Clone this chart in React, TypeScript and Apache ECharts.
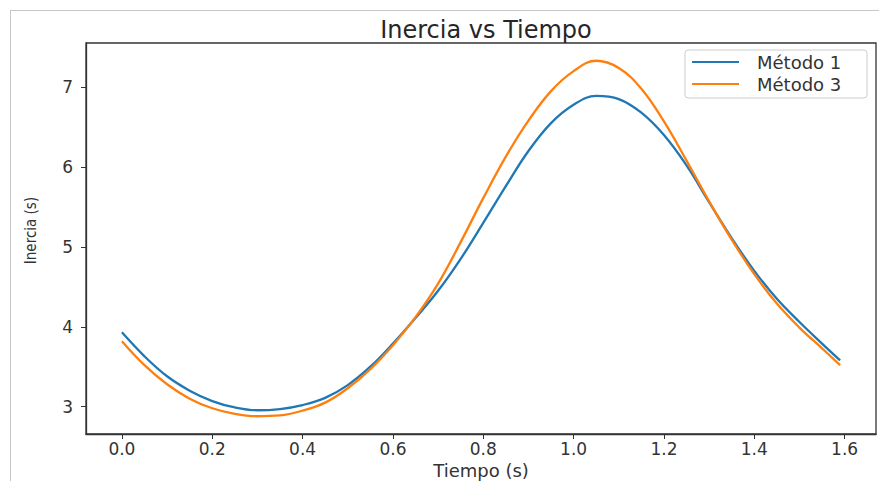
import React, { useEffect, useRef } from "react";
import * as echarts from "echarts";

const tiempo = [0, 0.05, 0.1, 0.15, 0.2, 0.25, 0.3, 0.35, 0.4, 0.45, 0.5, 0.55, 0.6, 0.65, 0.7, 0.75, 0.8, 0.85, 0.9, 0.95, 1.0, 1.05, 1.1, 1.15, 1.2, 1.25, 1.3, 1.35, 1.4, 1.45, 1.5, 1.55, 1.59];
const metodo1 = [3.93, 3.63, 3.38, 3.2, 3.07, 2.99, 2.955, 2.97, 3.02, 3.11, 3.27, 3.5, 3.79, 4.11, 4.45, 4.85, 5.3, 5.76, 6.2, 6.55, 6.78, 6.89, 6.85, 6.68, 6.4, 6.02, 5.56, 5.11, 4.7, 4.35, 4.06, 3.79, 3.58];
const metodo3 = [3.82, 3.52, 3.28, 3.1, 2.98, 2.91, 2.88, 2.89, 2.95, 3.05, 3.23, 3.47, 3.77, 4.12, 4.54, 5.06, 5.61, 6.13, 6.58, 6.95, 7.2, 7.33, 7.24, 6.98, 6.57, 6.08, 5.57, 5.09, 4.66, 4.29, 3.99, 3.73, 3.52];
const xTicks = [0, 0.2, 0.4, 0.6, 0.8, 1.0, 1.2, 1.4, 1.6];
const yTicks = [3, 4, 5, 6, 7];
const seriesNames = ["Método 1", "Método 3"];

export default function App() {
  const ref = useRef<HTMLDivElement>(null);
  useEffect(() => {
    if (!ref.current) return;
    const chart = echarts.init(ref.current, undefined, { renderer: "svg" });
    const font = "DejaVu Sans";
    chart.setOption({
      animation: false,
      backgroundColor: "#ffffff",
      title: {
        text: "Inercia vs Tiempo",
        left: 481,
        textAlign: "center",
        top: 13,
        textStyle: { fontFamily: font, fontSize: 24, fontWeight: "normal", color: "#262626" },
      },
      graphic: [
        { type: "line", shape: { x1: 10, y1: 10.5, x2: 879, y2: 10.5 }, style: { stroke: "#c8c8c8", lineWidth: 1 } },
        { type: "line", shape: { x1: 10.5, y1: 10, x2: 10.5, y2: 481 }, style: { stroke: "#c8c8c8", lineWidth: 1 } },
      ],
      legend: {
        orient: "vertical",
        right: 12,
        top: 50,
        padding: [3, 10, 5, 7],
        itemGap: 4,
        itemWidth: 47,
        itemHeight: 2,
        icon: "rect",
        borderColor: "#cccccc",
        borderWidth: 1,
        borderRadius: 3,
        backgroundColor: "#ffffff",
        textStyle: { fontFamily: font, fontSize: 18, lineHeight: 18, color: "#333333", padding: [0, 0, 0, 13], width: 100 },
        data: seriesNames,
      },
      grid: {
        left: 86,
        right: 3,
        top: 43,
        bottom: 47,
        show: true,
        outerBoundsMode: "none",
        containLabel: false,
        borderColor: "#333333",
        borderWidth: 1.3,
        backgroundColor: "transparent",
      },
      xAxis: {
        type: "value",
        min: -0.0795,
        max: 1.6695,
        name: "Tiempo (s)",
        nameLocation: "middle",
        nameGap: 20,
        nameTextStyle: { fontFamily: font, fontSize: 18, color: "#333333", verticalAlign: "top", lineHeight: 18 },
        axisLine: { show: true, onZero: false, lineStyle: { color: "#333333", width: 1.3 } },
        axisTick: { show: true, length: 5, lineStyle: { color: "#333333" }, customValues: xTicks },
        axisLabel: {
          customValues: xTicks,
          fontFamily: font,
          fontSize: 17,
          color: "#333333",
          margin: 6,
          formatter: (v: number) => v.toFixed(1),
        },
        splitLine: { show: false },
      },
      yAxis: {
        type: "value",
        min: 2.6575,
        max: 7.5525,
        name: "Inercia (s)",
        nameLocation: "middle",
        nameGap: 48,
        nameTextStyle: {
          fontFamily: "Liberation Sans Narrow, DejaVu Sans Condensed, sans-serif",
          fontSize: 15,
          color: "#333333",
          padding: [0, 0, 0, 16],
        },
        axisLine: { show: true, onZero: false, lineStyle: { color: "#333333", width: 1.3 } },
        axisTick: { show: true, length: 5, lineStyle: { color: "#333333" }, customValues: yTicks },
        axisLabel: {
          customValues: yTicks,
          fontFamily: font,
          fontSize: 17,
          color: "#333333",
          margin: 13,
        },
        splitLine: { show: false },
      },
      series: [
        {
          name: seriesNames[0],
          type: "line",
          data: tiempo.map((t, i) => [t, metodo1[i]]),
          smooth: 0.4,
          showSymbol: false,
          symbol: "none",
          lineStyle: { color: "#1f77b4", width: 2.3 },
          itemStyle: { color: "#1f77b4" },
        },
        {
          name: seriesNames[1],
          type: "line",
          data: tiempo.map((t, i) => [t, metodo3[i]]),
          smooth: 0.4,
          showSymbol: false,
          symbol: "none",
          lineStyle: { color: "#ff7f0e", width: 2.3 },
          itemStyle: { color: "#ff7f0e" },
        },
      ],
    });
    return () => chart.dispose();
  }, []);
  return (
    <div
      ref={ref}
      style={{ position: "fixed", left: 0, top: 0, width: 879, height: 481 }}
    />
  );
}
